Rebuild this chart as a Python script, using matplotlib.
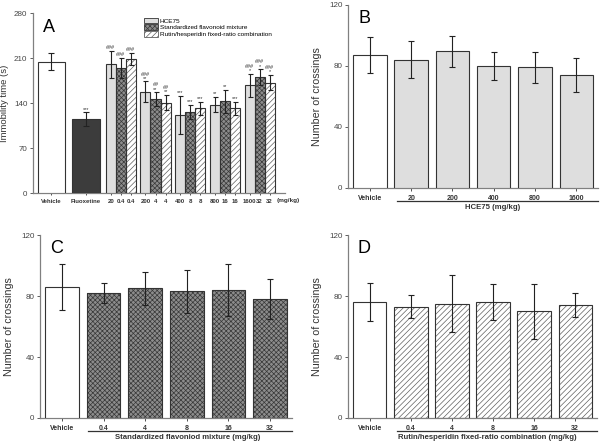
import numpy as np
import matplotlib
matplotlib.use("Agg")
import matplotlib.pyplot as plt

plt.rcParams['font.family'] = ['Liberation Sans', 'DejaVu Sans']
plt.rcParams['hatch.linewidth'] = 0.5

# ---- panel A data (immobility time) ----
a_single_labels = ["Vehicle", "Fluoxetine"]
a_single_vals = [205, 115]
a_single_err = [14, 11]
a_single_sig = ["", "***"]

a_doses_hce = ["20", "200", "400", "800", "1600"]
a_doses_mix = ["0.4", "4", "8", "16", "32"]
a_hce = [201, 158, 122, 138, 168]
a_hce_err = [21, 16, 30, 12, 18]
a_mix = [195, 146, 127, 143, 181]
a_mix_err = [16, 11, 11, 18, 12]
a_rh = [209, 141, 132, 132, 172]
a_rh_err = [10, 12, 10, 10, 12]
a_hce_sig = ["###", "###\n**", "***", "**", "###\n*"]
a_mix_sig = ["###", "##\n**", "***", "**", "###\n*"]
a_rh_sig = ["###", "##\n**", "***", "***", "###\n*"]

# ---- panels B-D data (number of crossings) ----
b_labels = ["Vehicle", "20", "200", "400", "800", "1600"]
b_vals = [87, 84, 89.5, 80, 79, 74]
b_err = [12, 12, 10, 9, 10, 11]

c_labels = ["Vehicle", "0.4", "4", "8", "16", "32"]
c_vals = [86, 82, 85, 83, 84, 78]
c_err = [15, 6.5, 11, 14, 17, 13]

d_labels = ["Vehicle", "0.4", "4", "8", "16", "32"]
d_vals = [76, 73, 75, 76, 70, 74]
d_err = [12.5, 7.5, 18.5, 12, 18, 8]

EDGE = "#333333"
SPINE = "#808080"

STYLES = {
    "hce": dict(color="#dedede", hatch=None, hcolor=None),
    "mix": dict(color="#8c8c8c", hatch="xxxxxxx", hcolor="#383838"),
    "rh": dict(color="white", hatch="//////", hcolor="#606060"),
}


def styled_bars(ax, x, h, w, style, label=None):
    st = STYLES[style]
    if st["hatch"]:
        ax.bar(x, h, w, color=st["color"], hatch=st["hatch"],
               edgecolor=st["hcolor"], linewidth=0, zorder=2)
        ax.bar(x, h, w, fill=False, edgecolor=EDGE, linewidth=0.8, zorder=3)
        if label:
            ax.bar([0], [0], 0, color=st["color"], hatch=st["hatch"],
                   edgecolor=st["hcolor"], linewidth=0, label=label)
    else:
        ax.bar(x, h, w, color=st["color"], edgecolor=EDGE, linewidth=0.8,
               zorder=3, label=label)


def style_axes(ax, ymax, step, xsize=5):
    for s in ["top", "right"]:
        ax.spines[s].set_visible(False)
    for s in ["left", "bottom"]:
        ax.spines[s].set_color(SPINE)
        ax.spines[s].set_linewidth(0.9)
    ax.set_ylim(0, ymax)
    ax.set_yticks(np.arange(0, ymax + 1, step))
    ax.tick_params(axis="y", labelsize=5.8, colors="#444444", length=2,
                   width=0.6, pad=2)
    ax.tick_params(axis="x", labelsize=xsize, length=2, width=0.6, pad=3,
                   colors="#333333")
    for lbl in ax.get_xticklabels():
        lbl.set_fontweight("bold")


fig = plt.figure(figsize=(6, 4.45), dpi=100)

# ---------------- panel A ----------------
ax = fig.add_axes([0.055, 0.566, 0.42, 0.404])
ax.bar([0], [a_single_vals[0]], 0.79, color="white", edgecolor=EDGE,
       linewidth=0.8, zorder=3)
ax.bar([1], [a_single_vals[1]], 0.79, color="#3c3c3c", edgecolor=EDGE,
       linewidth=0.8, zorder=3)
ax.errorbar([0, 1], a_single_vals, yerr=a_single_err, fmt="none",
            ecolor="#222222", elinewidth=0.8, capsize=2, capthick=0.8, zorder=4)

g = np.arange(2, 7)
bw = 0.29
groups = [("hce", a_hce, a_hce_err, a_hce_sig, "HCE75"),
          ("mix", a_mix, a_mix_err, a_mix_sig, "Standardized flavonoid mixture"),
          ("rh", a_rh, a_rh_err, a_rh_sig, "Rutin/hesperidin fixed-ratio combination")]
for k, (st, vals, errs, sig, lab) in enumerate(groups):
    xs = g + (k - 1) * bw
    styled_bars(ax, xs, vals, bw, st, label=lab)
    ax.errorbar(xs, vals, yerr=errs, fmt="none", ecolor="#222222",
                elinewidth=0.8, capsize=1.8, capthick=0.8, zorder=4)
    for x, v, e, s in zip(xs, vals, errs, sig):
        ax.text(x, v + e + 1, s, ha="center", va="bottom", fontsize=4,
                linespacing=0.8, color="#333333")
ax.text(1, a_single_vals[1] + a_single_err[1] + 1, a_single_sig[1],
        ha="center", va="bottom", fontsize=4, color="#333333")

ticks = [0, 1]
labels = list(a_single_labels)
for i, gc in enumerate(g):
    ticks += [gc - bw, gc, gc + bw]
    labels += [a_doses_hce[i], a_doses_mix[i], a_doses_mix[i]]
ax.set_xticks(ticks)
ax.set_xticklabels(labels)
ax.set_xlim(-0.53, 6.73)
style_axes(ax, 280, 70, xsize=4.3)
ax.tick_params(axis="x", length=1.5)
ax.text(0.968, -0.025, "(mg/kg)", transform=ax.transAxes, ha="left",
        va="top", fontsize=4.6, fontweight="bold", color="#333333")
ax.set_ylabel("Immobility time (s)", fontsize=6.8, color="#333333", labelpad=4)
ax.text(0.04, 0.92, "A", transform=ax.transAxes, fontsize=13, va="center")
leg = ax.legend(loc="upper left", bbox_to_anchor=(0.43, 0.99), fontsize=4.6,
                frameon=False, handlelength=2.2, handleheight=1.0,
                labelspacing=0.1, borderaxespad=0, handletextpad=0.3)
for h in leg.legend_handles:
    h.set_linewidth(0.6)
leg.legend_handles[0].set_edgecolor(EDGE)
leg.legend_handles[1].set_edgecolor("#383838")
leg.legend_handles[2].set_edgecolor("#606060")


# ---------------- panels B, C, D ----------------
def crossing_panel(rect, labels, vals, errs, style, letter, xlabel,
                   line_start, label_x):
    ax = fig.add_axes(rect)
    x = np.arange(len(vals))
    ax.bar([0], [vals[0]], 0.81, color="white", edgecolor=EDGE,
           linewidth=0.8, zorder=3)
    styled_bars(ax, x[1:], vals[1:], 0.81, style)
    ax.errorbar(x, vals, yerr=errs, fmt="none", ecolor="#222222",
                elinewidth=0.8, capsize=2.2, capthick=0.8, zorder=4)
    ax.set_xticks(x)
    ax.set_xticklabels(labels)
    ax.set_xlim(-0.53, 5.53)
    style_axes(ax, 120, 40)
    ax.set_ylabel("Number of crossings", fontsize=7.7, color="#333333",
                  labelpad=5)
    ax.text(0.04, 0.925, letter, transform=ax.transAxes, fontsize=13,
            va="center")
    ax.plot([line_start, 1.0], [-0.071, -0.071], transform=ax.transAxes,
            color="#333333", lw=0.9, clip_on=False)
    ax.text(label_x, -0.088, xlabel, transform=ax.transAxes, ha="center",
            va="top", fontsize=5.6, fontweight="bold", color="#333333")
    return ax


crossing_panel([0.58, 0.578, 0.417, 0.411], b_labels, b_vals, b_err, "hce",
               "B", "HCE75 (mg/kg)", 0.196, 0.58)
crossing_panel([0.0667, 0.0607, 0.42, 0.411], c_labels, c_vals, c_err, "mix",
               "C", "Standardized flavoniod mixture (mg/kg)", 0.19, 0.587)
crossing_panel([0.58, 0.0607, 0.415, 0.411], d_labels, d_vals, d_err, "rh",
               "D", "Rutin/hesperidin fixed-ratio combination (mg/kg)",
               0.196, 0.56)

fig.savefig("out.png", dpi=100)
